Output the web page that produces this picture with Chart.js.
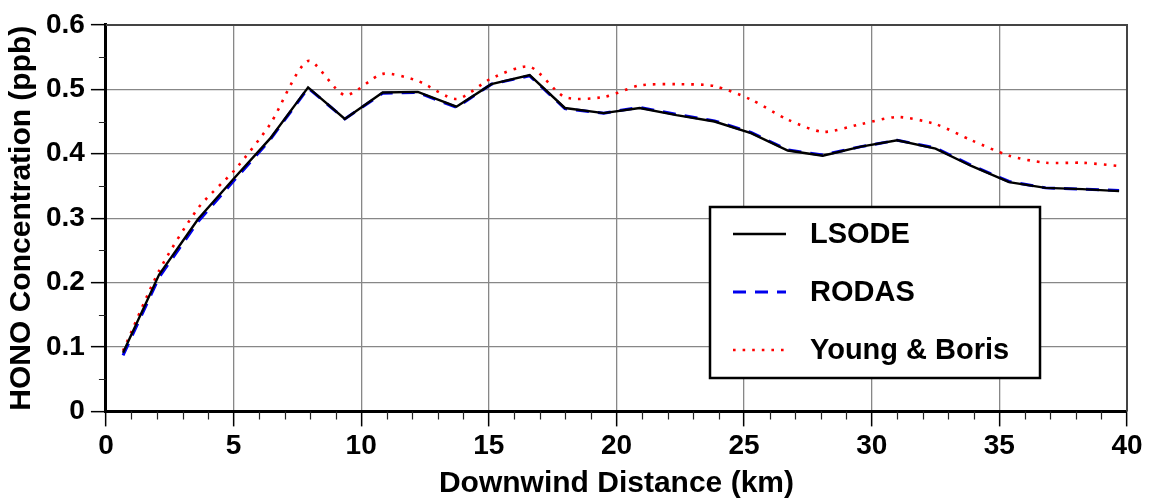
<!DOCTYPE html>
<html>
<head>
<meta charset="utf-8">
<script src="https://cdn.jsdelivr.net/npm/chart.js@4.4.1/dist/chart.umd.min.js"></script>
<style>
  html, body { margin: 0; padding: 0; background: #fff; }
  #wrap { width: 1151px; height: 501px; }
</style>
</head>
<body>
<div id="wrap"><canvas id="hono"></canvas></div>
<script>
// downwind distance of each model output (km)
const distance = [0.67, 2.08, 3.62, 5.05, 6.42, 7.92, 9.36, 10.84, 12.22, 13.73,
  15.1, 16.6, 17.98, 19.5, 20.91, 22.35, 23.84, 25.27, 26.71, 28.08,
  29.58, 31.0, 32.5, 33.9, 35.38, 36.81, 38.25, 39.69];

// HONO concentration (ppb) for each solver
const lsode = [0.091, 0.212, 0.299, 0.363, 0.423, 0.503, 0.454, 0.495, 0.496, 0.473,
  0.508, 0.522, 0.471, 0.463, 0.471, 0.460, 0.450, 0.432, 0.405, 0.397,
  0.411, 0.421, 0.408, 0.381, 0.356, 0.347, 0.345, 0.342];
const rodas = [0.087, 0.208, 0.295, 0.360, 0.421, 0.502, 0.454, 0.494, 0.495, 0.472,
  0.508, 0.521, 0.470, 0.463, 0.472, 0.461, 0.451, 0.433, 0.406, 0.398,
  0.411, 0.421, 0.409, 0.382, 0.357, 0.347, 0.345, 0.343];
const youngBoris = [0.094, 0.218, 0.316, 0.375, 0.445, 0.544, 0.491, 0.524, 0.513, 0.485,
  0.517, 0.535, 0.488, 0.488, 0.506, 0.508, 0.505, 0.484, 0.453, 0.434,
  0.446, 0.457, 0.446, 0.421, 0.397, 0.386, 0.386, 0.381];

const xTicks = [0, 5, 10, 15, 20, 25, 30, 35, 40];
const yTicks = [0, 0.1, 0.2, 0.3, 0.4, 0.5, 0.6];

const FONT = "'Liberation Sans', Arial, Helvetica, sans-serif";

function points(values) {
  return distance.map((d, i) => ({ x: d, y: values[i] }));
}

// minor ticks, plot frame and the boxed legend
const decorations = {
  id: 'decorations',
  afterDraw(chart) {
    const ctx = chart.ctx;
    const xs = chart.scales.x, ys = chart.scales.y;
    const a = chart.chartArea;
    ctx.save();

    ctx.strokeStyle = '#222';
    ctx.lineWidth = 1.2;
    ctx.beginPath();
    for (let v = 1; v < 40; v++) {
      if (v % 5 === 0) continue;
      const px = Math.round(xs.getPixelForValue(v)) + 0.5;
      ctx.moveTo(px, a.bottom);
      ctx.lineTo(px, a.bottom + 8);
    }
    for (let i = 0; i < yTicks.length - 1; i++) {
      const py = Math.round(ys.getPixelForValue(yTicks[i] + 0.05)) + 0.5;
      ctx.moveTo(a.left, py);
      ctx.lineTo(a.left - 7, py);
    }
    ctx.stroke();

    // top and right edges of the frame
    ctx.strokeStyle = '#444';
    ctx.lineWidth = 2;
    ctx.beginPath();
    ctx.moveTo(a.left, a.top);
    ctx.lineTo(a.right, a.top);
    ctx.lineTo(a.right, a.bottom);
    ctx.stroke();

    // legend box
    const bx = 710, by = 207, bw = 330, bh = 171;
    ctx.fillStyle = '#fff';
    ctx.fillRect(bx, by, bw, bh);
    ctx.strokeStyle = '#000';
    ctx.lineWidth = 2.5;
    ctx.strokeRect(bx, by, bw, bh);

    const rows = [234, 292, 350];
    chart.data.datasets.forEach((ds, i) => {
      ctx.beginPath();
      ctx.strokeStyle = ds.borderColor;
      ctx.lineWidth = ds.borderWidth;
      ctx.setLineDash(ds.borderDash || []);
      ctx.moveTo(733, rows[i]);
      ctx.lineTo(786, rows[i]);
      ctx.stroke();
      ctx.setLineDash([]);
      ctx.fillStyle = '#000';
      ctx.font = 'bold 29px ' + FONT;
      ctx.textBaseline = 'middle';
      ctx.textAlign = 'left';
      ctx.fillText(ds.label, 810, rows[i] + 1);
    });
    ctx.restore();
  }
};

const config = {
  type: 'line',
  data: {
    datasets: [{
      label: 'LSODE',
      data: points(lsode),
      borderColor: '#000',
      borderWidth: 2.4,
      pointRadius: 0,
      tension: 0
    }, {
      label: 'RODAS',
      data: points(rodas),
      borderColor: '#0000ee',
      borderWidth: 3,
      borderDash: [13, 9],
      pointRadius: 0,
      tension: 0
    }, {
      label: 'Young & Boris',
      data: points(youngBoris),
      borderColor: '#ff0000',
      borderWidth: 2.6,
      borderDash: [2.6, 7],
      pointRadius: 0,
      tension: 0.25
    }]
  },
  options: {
    responsive: true,
    maintainAspectRatio: false,
    animation: false,
    layout: { padding: { left: 1, right: 24, top: 11, bottom: 1 } },
    plugins: { legend: { display: false }, tooltip: { enabled: false } },
    scales: {
      x: {
        type: 'linear',
        min: 0,
        max: 40,
        afterBuildTicks: (scale) => { scale.ticks = xTicks.map(v => ({ value: v })); },
        grid: { color: '#878787', lineWidth: 1.3, tickColor: '#000', tickLength: 15, tickWidth: 1.5 },
        border: { color: '#000', width: 3 },
        ticks: { color: '#000', padding: 3, maxRotation: 0, font: { family: FONT, size: 28, weight: 'bold', lineHeight: 1.2 } },
        title: {
          display: true,
          text: 'Downwind Distance (km)',
          color: '#000',
          padding: { top: 1, bottom: 0 },
          font: { family: FONT, size: 30, weight: 'bold', lineHeight: 1.1 }
        }
      },
      y: {
        min: 0,
        max: 0.6,
        afterBuildTicks: (scale) => { scale.ticks = yTicks.map(v => ({ value: v })); },
        grid: { color: '#878787', lineWidth: 1.3, tickColor: '#000', tickLength: 15, tickWidth: 1.5 },
        border: { color: '#000', width: 3 },
        ticks: {
          color: '#000',
          padding: 6,
          font: { family: FONT, size: 28, weight: 'bold', lineHeight: 1.35 },
          callback: (v) => v === 0 ? '0' : v.toFixed(1)
        },
        title: {
          display: true,
          text: 'HONO Concentration (ppb)',
          color: '#000',
          padding: { top: 3, bottom: 0 },
          font: { family: FONT, size: 30, weight: 'bold' }
        }
      }
    }
  },
  plugins: [decorations]
};

const honoChart = new Chart(document.getElementById('hono'), config);
</script>
</body>
</html>
